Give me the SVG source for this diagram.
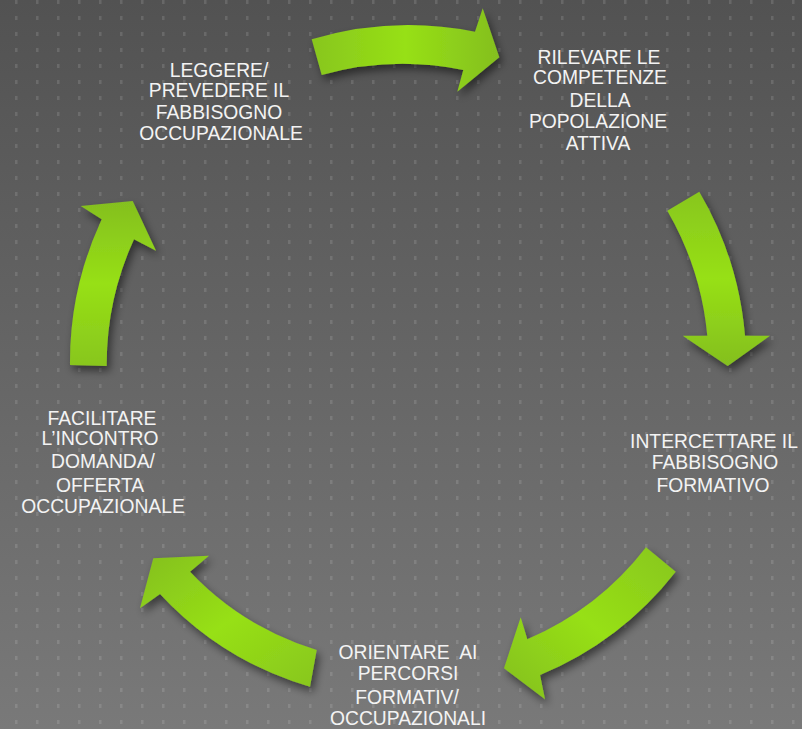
<svg xmlns="http://www.w3.org/2000/svg" width="802" height="729" viewBox="0 0 802 729">
  <defs>
    <style>
      .lbl { font-family: "Liberation Sans", Arial, sans-serif; font-size: 19.3px; fill: #f3f3f3; text-anchor: middle; }
      .arrow { filter: url(#shadow); }
    </style>
    <linearGradient id="bg" x1="0" y1="0" x2="0" y2="1">
      <stop offset="0" stop-color="#525252"/>
      <stop offset="1" stop-color="#797979"/>
    </linearGradient>
    <pattern id="dots" patternUnits="userSpaceOnUse" width="21" height="16">
      <rect x="15" y="0" width="2.5" height="4" fill="#ffffff" fill-opacity="0.12"/>
    </pattern>
    <linearGradient id="gH" x1="0" y1="0" x2="1" y2="0">
      <stop offset="0" stop-color="#88c61e"/>
      <stop offset="0.5" stop-color="#97e015"/>
      <stop offset="1" stop-color="#84bf20"/>
    </linearGradient>
    <linearGradient id="gV" x1="0" y1="0" x2="0" y2="1">
      <stop offset="0" stop-color="#88c61e"/>
      <stop offset="0.5" stop-color="#97e015"/>
      <stop offset="1" stop-color="#84bf20"/>
    </linearGradient>
    <linearGradient id="gD1" x1="1" y1="0" x2="0" y2="1">
      <stop offset="0" stop-color="#88c61e"/>
      <stop offset="0.5" stop-color="#97e015"/>
      <stop offset="1" stop-color="#84bf20"/>
    </linearGradient>
    <linearGradient id="gD2" x1="1" y1="1" x2="0" y2="0">
      <stop offset="0" stop-color="#88c61e"/>
      <stop offset="0.5" stop-color="#97e015"/>
      <stop offset="1" stop-color="#84bf20"/>
    </linearGradient>
    <linearGradient id="gU" x1="0" y1="1" x2="0" y2="0">
      <stop offset="0" stop-color="#88c61e"/>
      <stop offset="0.5" stop-color="#97e015"/>
      <stop offset="1" stop-color="#84bf20"/>
    </linearGradient>
    <filter id="shadow" x="-20%" y="-20%" width="140%" height="140%">
      <feDropShadow dx="3" dy="5" stdDeviation="4" flood-color="#000000" flood-opacity="0.5"/>
    </filter>
  </defs>

  <rect x="0" y="0" width="802" height="729" fill="url(#bg)"/>
  <rect x="0" y="0" width="802" height="729" fill="url(#dots)"/>

  <g id="connectors">
    <path class="arrow" fill="url(#gH)" d="M311.7,39.3 A340,340 0 0 1 475,31.7 L482.7,8.3 L499.3,57.3 L457.3,91.7 L463.3,70 A305,305 0 0 0 321.7,75 Z"/>
    <path class="arrow" fill="url(#gV)" d="M699.3,191.7 A343,343 0 0 1 745,335.7 L770,335.7 L727.7,366 L682.7,335.7 L707.3,335.7 A305,305 0 0 0 667.3,210.7 Z"/>
    <path class="arrow" fill="url(#gD1)" d="M646,547.3 A298,298 0 0 1 527.3,639.3 L520.7,617.3 L504,668.3 L545,699.3 L540,675 A337,337 0 0 0 675.7,571.7 Z"/>
    <path class="arrow" fill="url(#gD2)" d="M316.7,650 A294,294 0 0 1 190,571.7 L209,555.7 L153.3,558.3 L140,608.3 L160,594 A331,331 0 0 0 310,686.7 Z"/>
    <path class="arrow" fill="url(#gU)" d="M70,365 A337,337 0 0 1 101.7,219.3 L80.7,206 L132.7,201 L156,250.7 L134,239.3 A300,300 0 0 0 106.7,366 Z"/>
  </g>

  <g id="node-leggere">
    <text class="lbl" x="219" y="76.5">LEGGERE/</text>
    <text class="lbl" x="219" y="97">PREVEDERE IL</text>
    <text class="lbl" x="219" y="118.5">FABBISOGNO</text>
    <text class="lbl" x="221" y="140">OCCUPAZIONALE</text>
  </g>

  <g id="node-rilevare">
    <text class="lbl" x="599" y="64">RILEVARE LE</text>
    <text class="lbl" x="600" y="84">COMPETENZE</text>
    <text class="lbl" x="600" y="106.5">DELLA</text>
    <text class="lbl" x="598" y="127.5">POPOLAZIONE</text>
    <text class="lbl" x="598" y="150">ATTIVA</text>
  </g>

  <g id="node-intercettare">
    <text class="lbl" x="714" y="447.5">INTERCETTARE IL</text>
    <text class="lbl" x="715" y="468.5">FABBISOGNO</text>
    <text class="lbl" x="713" y="491.5">FORMATIVO</text>
  </g>

  <g id="node-orientare">
    <text class="lbl" x="408" y="658.5" xml:space="preserve">ORIENTARE  AI</text>
    <text class="lbl" x="408" y="680">PERCORSI</text>
    <text class="lbl" x="407" y="704">FORMATIV/</text>
    <text class="lbl" x="408" y="725">OCCUPAZIONALI</text>
  </g>

  <g id="node-facilitare">
    <text class="lbl" x="102" y="425">FACILITARE</text>
    <text class="lbl" x="100" y="445">L’INCONTRO</text>
    <text class="lbl" x="103" y="467.5">DOMANDA/</text>
    <text class="lbl" x="100" y="491.5">OFFERTA</text>
    <text class="lbl" x="103" y="513">OCCUPAZIONALE</text>
  </g>
</svg>
